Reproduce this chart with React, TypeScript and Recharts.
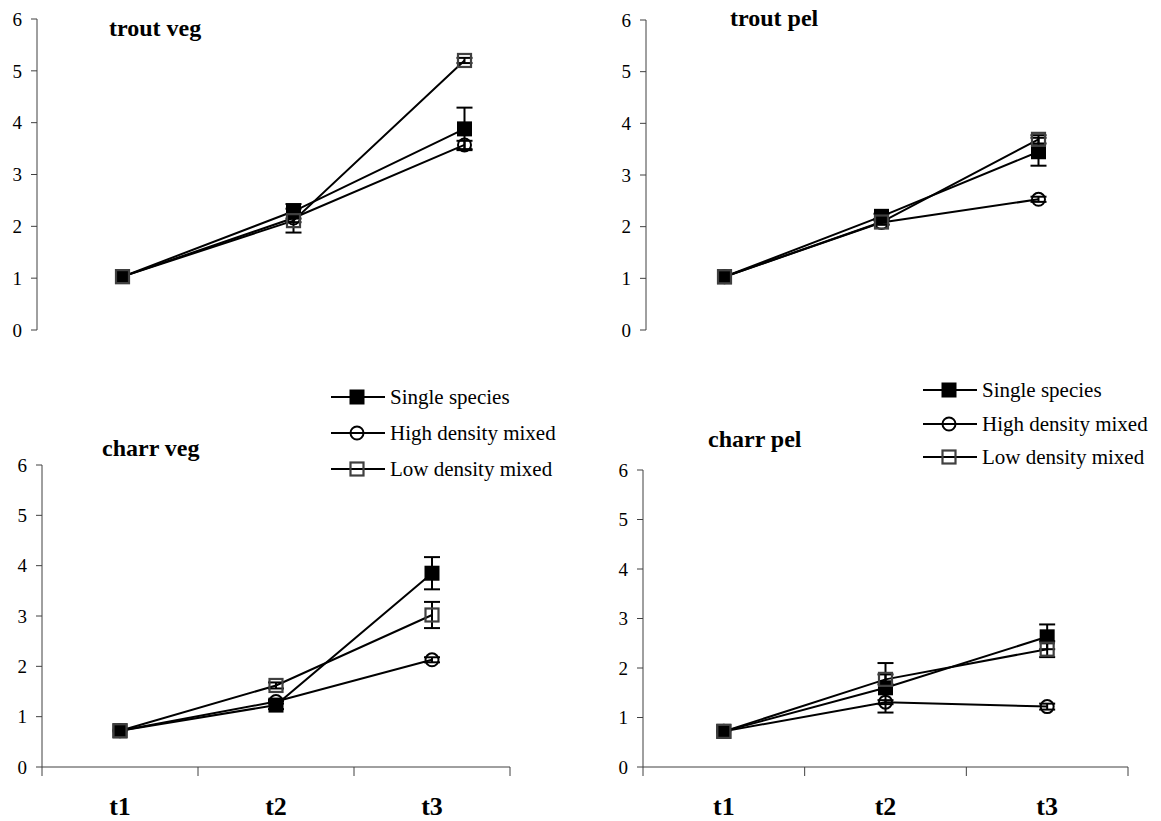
import React from 'react'
import { LineChart, Line, XAxis, YAxis, ErrorBar } from 'recharts'

const timepoints = ['t1', 't2', 't3']
const seriesNames = ['Single species', 'High density mixed', 'Low density mixed']
const seriesKeys = ['single', 'high', 'low']
const yTicks = [0, 1, 2, 3, 4, 5, 6]
const xTicks = [0, 0.5, 1, 1.5, 2, 2.5, 3]

// trout veg
const troutVegSingle = [1.03, 2.29, 3.88]
const troutVegSingleErr = [0, 0.14, 0.41]
const troutVegHigh = [1.03, 2.16, 3.57]
const troutVegHighErr = [0, 0.08, 0.08]
const troutVegLow = [1.03, 2.11, 5.2]
const troutVegLowErr = [0, 0.23, 0.05]

// trout pel
const troutPelSingle = [1.03, 2.2, 3.45]
const troutPelSingleErr = [0, 0.05, 0.27]
const troutPelHigh = [1.03, 2.08, 2.53]
const troutPelHighErr = [0, 0.04, 0.05]
const troutPelLow = [1.03, 2.09, 3.69]
const troutPelLowErr = [0, 0.05, 0.08]

// charr veg
const charrVegSingle = [0.72, 1.23, 3.85]
const charrVegSingleErr = [0, 0.08, 0.32]
const charrVegHigh = [0.72, 1.3, 2.13]
const charrVegHighErr = [0, 0.04, 0.05]
const charrVegLow = [0.72, 1.62, 3.02]
const charrVegLowErr = [0, 0.06, 0.26]

// charr pel
const charrPelSingle = [0.72, 1.6, 2.63]
const charrPelSingleErr = [0, 0.5, 0.25]
const charrPelHigh = [0.72, 1.31, 1.22]
const charrPelHighErr = [0, 0.04, 0.06]
const charrPelLow = [0.72, 1.77, 2.38]
const charrPelLowErr = [0, 0.1, 0.16]

const serif = '"Liberation Serif", "Times New Roman", serif'

function buildRows(s: number[], se: number[], h: number[], he: number[], l: number[], le: number[]) {
  return timepoints.map((t, i) => ({
    t,
    pos: i + 0.5,
    single: s[i],
    singleErr: se[i],
    high: h[i],
    highErr: he[i],
    low: l[i],
    lowErr: le[i],
  }))
}

function Marker({ kind, cx, cy }: { kind: string; cx: number; cy: number }) {
  if (kind === 'single') return <rect x={cx - 7.5} y={cy - 7.5} width={15} height={15} fill="#000" />
  if (kind === 'high') return <circle cx={cx} cy={cy} r={6.5} fill="none" stroke="#000" strokeWidth={2} />
  return <rect x={cx - 6.5} y={cy - 6.5} width={13} height={13} fill="none" stroke="#404040" strokeWidth={2.2} />
}

const TimeTick = (props: any) => {
  const { x, y, payload } = props
  const v = payload.value
  if (Number.isInteger(v)) {
    return <line x1={x} x2={x} y1={y} y2={y + 9} stroke="#404040" strokeWidth={1} />
  }
  return (
    <text
      x={x}
      y={y + 48}
      textAnchor="middle"
      fontSize={26}
      fontWeight="bold"
      style={{ fontFamily: serif }}
      fill="#000"
    >
      {timepoints[Math.floor(v)]}
    </text>
  )
}

const ValueTick = (props: any) => {
  const { x, y, payload } = props
  return (
    <text x={x} y={y} dy="0.355em" textAnchor="end" fontSize={19} style={{ fontFamily: serif }} fill="#000">
      {payload.value}
    </text>
  )
}

interface PanelProps {
  left: number
  top: number
  width: number
  height: number
  margin: { top: number; right: number; bottom: number; left: number }
  yAxisWidth: number
  showX: boolean
  data: any[]
}

function Panel({ left, top, width, height, margin, yAxisWidth, showX, data }: PanelProps) {
  return (
    <div style={{ position: 'absolute', left, top }}>
      <LineChart width={width} height={height} data={data} margin={margin}>
        <XAxis
          dataKey="pos"
          type="number"
          domain={[0, 3]}
          ticks={xTicks}
          interval={0}
          hide={!showX}
          height={54}
          tickSize={0}
          tickMargin={0}
          tickLine={false}
          axisLine={{ stroke: '#404040', strokeWidth: 1 }}
          tick={<TimeTick />}
        />
        <YAxis
          type="number"
          domain={[0, 6]}
          ticks={yTicks}
          interval={0}
          width={yAxisWidth}
          tickSize={6}
          tickMargin={9}
          axisLine={{ stroke: '#404040', strokeWidth: 1 }}
          tickLine={{ stroke: '#404040', strokeWidth: 1 }}
          tick={<ValueTick />}
        />
        {seriesKeys.map((k) => (
          <Line
            key={k}
            dataKey={k}
            stroke="#000"
            strokeWidth={2}
            isAnimationActive={false}
            activeDot={false}
            dot={(p: any) => (
              <g key={`${k}-${p.index}`}>
                <Marker kind={k} cx={p.cx} cy={p.cy} />
              </g>
            )}
          >
            <ErrorBar dataKey={`${k}Err`} direction="y" width={8} stroke="#000" strokeWidth={2} />
          </Line>
        ))}
      </LineChart>
    </div>
  )
}

function Legend({ x, ys }: { x: number; ys: number[] }) {
  return (
    <g>
      {seriesNames.map((name, i) => (
        <g key={name}>
          <line x1={x} x2={x + 54} y1={ys[i]} y2={ys[i]} stroke="#000" strokeWidth={2} />
          <Marker kind={seriesKeys[i]} cx={x + 26} cy={ys[i]} />
          <text x={x + 59} y={ys[i] + 7} fontSize={21} style={{ fontFamily: serif }} fill="#000">
            {name}
          </text>
        </g>
      ))}
    </g>
  )
}

const titleStyle = { fontSize: 24, fontWeight: 'bold' as const, style: { fontFamily: serif }, fill: '#000' }

export default function App() {
  return (
    <div
      style={{
        position: 'absolute',
        left: 0,
        top: 0,
        width: 1161,
        height: 821,
        background: '#fff',
        fontFamily: serif,
      }}
    >
      <Panel
        left={0}
        top={0}
        width={570}
        height={350}
        margin={{ top: 19, right: 20, bottom: 20, left: 0 }}
        yAxisWidth={37}
        showX={false}
        data={buildRows(troutVegSingle, troutVegSingleErr, troutVegHigh, troutVegHighErr, troutVegLow, troutVegLowErr)}
      />
      <Panel
        left={580}
        top={0}
        width={581}
        height={350}
        margin={{ top: 20, right: 44, bottom: 20, left: 0 }}
        yAxisWidth={66}
        showX={false}
        data={buildRows(troutPelSingle, troutPelSingleErr, troutPelHigh, troutPelHighErr, troutPelLow, troutPelLowErr)}
      />
      <Panel
        left={0}
        top={430}
        width={560}
        height={391}
        margin={{ top: 35, right: 50, bottom: 0, left: 0 }}
        yAxisWidth={42}
        showX={true}
        data={buildRows(charrVegSingle, charrVegSingleErr, charrVegHigh, charrVegHighErr, charrVegLow, charrVegLowErr)}
      />
      <Panel
        left={580}
        top={430}
        width={581}
        height={391}
        margin={{ top: 40, right: 33, bottom: 0, left: 0 }}
        yAxisWidth={63}
        showX={true}
        data={buildRows(charrPelSingle, charrPelSingleErr, charrPelHigh, charrPelHighErr, charrPelLow, charrPelLowErr)}
      />
      <svg
        width={1161}
        height={821}
        style={{ position: 'absolute', left: 0, top: 0, pointerEvents: 'none' }}
      >
        <text x={109} y={36} {...titleStyle}>trout veg</text>
        <text x={730} y={26} {...titleStyle}>trout pel</text>
        <text x={102} y={456} {...titleStyle}>charr veg</text>
        <text x={708} y={447} {...titleStyle}>charr pel</text>
        <Legend x={331} ys={[397, 433, 469]} />
        <Legend x={923} ys={[390, 424, 457]} />
      </svg>
    </div>
  )
}
